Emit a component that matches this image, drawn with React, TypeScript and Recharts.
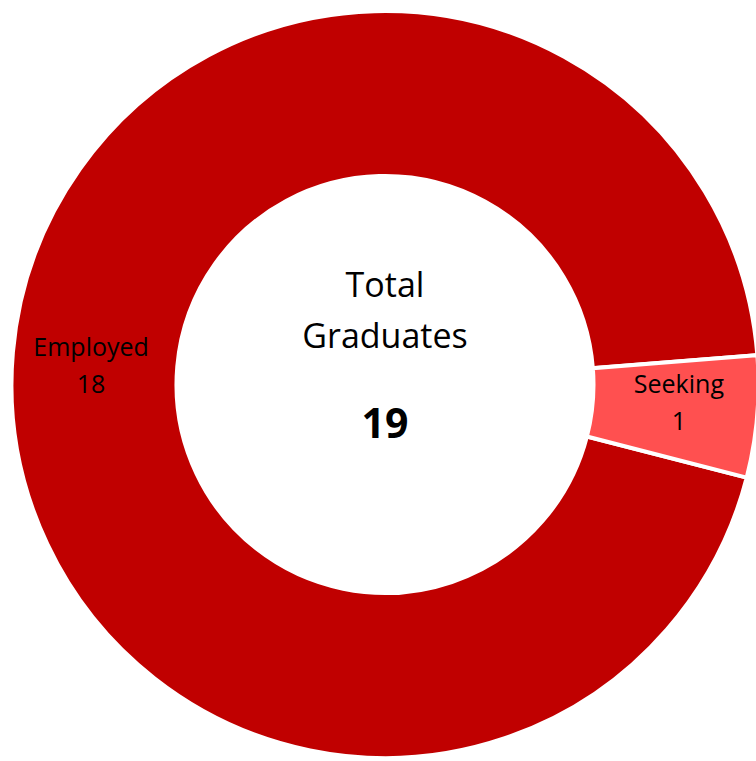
import React from 'react';
import { PieChart, Pie, Cell } from 'recharts';

const categories = ['Employed', 'Seeking'];
const counts = [18, 1];
const COLORS = ['#C00000', '#FF5050'];
const total = counts.reduce((a, b) => a + b, 0);

const data = categories.map((name, i) => ({ name, value: counts[i] }));

const FONT = '"Open Sans", "Noto Sans", sans-serif';
const RAD = Math.PI / 180;

// label sits in the middle of the ring, text block centred on that point
const renderLabel = (props: any) => {
  const { cx, cy, midAngle, innerRadius, outerRadius, name, value } = props;
  const r = (innerRadius + outerRadius) / 2 + 4;
  const x = cx + r * Math.cos(-midAngle * RAD);
  const y = cy + 0.74 * r * Math.sin(-midAngle * RAD);
  return (
    <text x={x} y={y} textAnchor="middle" fill="#000" fontFamily={FONT} fontSize={25}>
      <tspan x={x} dy={-10}>{name}</tspan>
      <tspan x={x} dy={37}>{value}</tspan>
    </text>
  );
};

export default function App() {
  return (
    <div style={{ position: 'absolute', left: 0, top: 0, width: 756, height: 761, background: '#fff' }}>
      <PieChart width={756} height={761} margin={{ top: 0, right: 0, bottom: 0, left: 0 }}>
        <Pie
          data={data}
          dataKey="value"
          nameKey="name"
          cx={385}
          cy={384.5}
          innerRadius={208.5}
          outerRadius={373.5}
          startAngle={4.5}
          endAngle={364.5}
          stroke="#fff"
          strokeWidth={4}
          label={renderLabel}
          labelLine={false}
          isAnimationActive={false}
        >
          {data.map((entry, i) => (
            <Cell key={`cell-${i}`} fill={COLORS[i % COLORS.length]} />
          ))}
        </Pie>
        <text x={385} y={297} textAnchor="middle" fontFamily={FONT} fontSize={34} fill="#000">Total</text>
        <text x={385} y={348} textAnchor="middle" fontFamily={FONT} fontSize={34} fill="#000">Graduates</text>
        <text x={385} y={438} textAnchor="middle" fontFamily={FONT} fontSize={41} fontWeight="bold" fill="#000">{total}</text>
      </PieChart>
    </div>
  );
}
